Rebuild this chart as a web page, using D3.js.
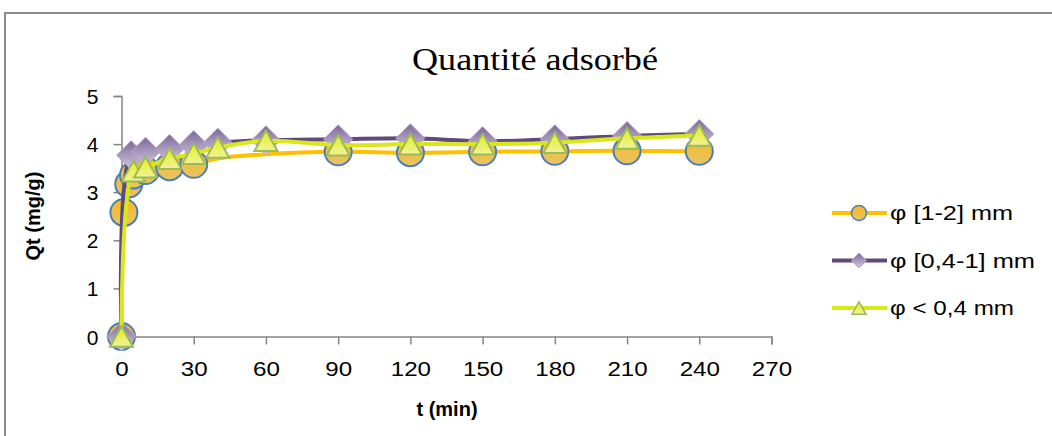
<!DOCTYPE html>
<html>
<head>
<meta charset="utf-8">
<script src="https://cdn.jsdelivr.net/npm/d3@7"></script>
<style>
  body { margin: 0; background: #fff; }
  svg { display: block; }
</style>
</head>
<body>
<svg id="chart" width="1052" height="436"></svg>
<script>
// temps de contact (min) et quantité adsorbée (mg/g) pour chaque granulométrie
var tOrange = [0, 1, 3, 5, 10, 20, 30, 40, 60, 90, 120, 150, 180, 210, 240];
var qOrange = [0, 2.58, 3.17, 3.36, 3.45, 3.53, 3.58, 3.70, 3.79, 3.84, 3.82, 3.84, 3.85, 3.86, 3.85];
// points à 40 et 60 min tracés sans marqueur dans l'original
var noMarkerOrange = [40, 60];

var tPurple = [0, 4, 10, 20, 30, 40, 60, 90, 120, 150, 180, 210, 240];
var qPurple = [0, 3.77, 3.84, 3.9, 3.98, 4.03, 4.08, 4.1, 4.12, 4.06, 4.1, 4.17, 4.21];

var tYellow = [0, 5, 10, 20, 30, 40, 60, 90, 120, 150, 180, 210, 240];
var qYellow = [0, 3.44, 3.52, 3.7, 3.8, 3.93, 4.07, 3.98, 4.0, 4.0, 4.03, 4.12, 4.18];

var seriesNames = ["\u03c6 [1-2] mm", "\u03c6 [0,4-1] mm", "\u03c6 < 0,4 mm"];
var xTicks = [0, 30, 60, 90, 120, 150, 180, 210, 240, 270];
var yTicks = [0, 1, 2, 3, 4, 5];

var svg = d3.select("#chart");
var margin = { left: 121.5, right: 1052 - 771.5, top: 96, bottom: 436 - 336.5 };
var width = 1052, height = 436;

var x = d3.scaleLinear().domain([0, 270]).range([margin.left, width - margin.right]);
var y = d3.scaleLinear().domain([0, 5]).range([height - margin.bottom, margin.top]);

// outer frame
svg.append("rect")
    .attr("x", 5).attr("y", 13)
    .attr("width", 1060).attr("height", 440)
    .attr("fill", "#fff")
    .attr("stroke", "#8a8a8a")
    .attr("stroke-width", 2);

// gradients for markers
var defs = svg.append("defs");
function grad(id, c1, c2) {
    var g = defs.append("linearGradient").attr("id", id)
        .attr("x1", 0).attr("y1", 0).attr("x2", 0).attr("y2", 1);
    g.append("stop").attr("offset", "0%").attr("stop-color", c1);
    g.append("stop").attr("offset", "100%").attr("stop-color", c2);
}
grad("gOrange", "#f9b91c", "#e6c46a");
grad("gPurple", "#7d6799", "#d4cae2");
grad("gYellow", "#e4ef1c", "#f0f29a");

// title
svg.append("text")
    .attr("x", 535).attr("y", 70)
    .attr("text-anchor", "middle")
    .attr("textLength", 246)
    .attr("lengthAdjust", "spacingAndGlyphs")
    .style("font-family", "'Liberation Serif', 'DejaVu Serif', serif")
    .style("font-size", "31px")
    .style("fill", "#000")
    .text("Quantité adsorbé");

// axes
var xAxis = svg.append("g")
    .attr("transform", "translate(0," + y(0) + ")")
    .call(d3.axisBottom(x).tickValues(xTicks).tickFormat(d3.format("d")).tickSize(8).tickPadding(17));
var yAxis = svg.append("g")
    .attr("transform", "translate(" + x(0) + ",0)")
    .call(d3.axisLeft(y).tickValues(yTicks).tickFormat(d3.format("d")).tickSize(8).tickPadding(14));

[xAxis, yAxis].forEach(function (ax) {
    ax.select(".domain").attr("stroke", "#868686").attr("stroke-width", 1.5);
    ax.selectAll(".tick line").attr("stroke", "#868686").attr("stroke-width", 1.5);
    ax.selectAll(".tick text")
        .style("font-family", "'Liberation Sans', Arial, sans-serif")
        .style("font-size", "21px")
        .style("fill", "#000");
});
xAxis.selectAll(".tick text").attr("transform", "scale(1.15,1)");
yAxis.selectAll(".tick text").attr("x", -23).attr("dy", "0.36em");

// axis titles
svg.append("text")
    .attr("x", 447).attr("y", 416)
    .attr("text-anchor", "middle")
    .style("font-family", "'Liberation Sans', Arial, sans-serif")
    .style("font-size", "20px")
    .style("font-weight", "bold")
    .text("t (min)");

svg.append("text")
    .attr("transform", "translate(40,216) rotate(-90)")
    .attr("text-anchor", "middle")
    .style("font-family", "'Liberation Sans', Arial, sans-serif")
    .style("font-size", "20px")
    .style("font-weight", "bold")
    .text("Qt (mg/g)");

var line = d3.line()
    .x(function (d) { return x(d[0]); })
    .y(function (d) { return y(d[1]); })
    .curve(d3.curveCatmullRom.alpha(0.5));

var series = [
    { t: tOrange, q: qOrange, skip: noMarkerOrange, line: "#ffc000", fill: "url(#gOrange)", stroke: "#4a7ebb", shape: "circle" },
    { t: tPurple, q: qPurple, skip: [], line: "#5f4a7b", fill: "url(#gPurple)", stroke: "#b3a2c7", shape: "diamond" },
    { t: tYellow, q: qYellow, skip: [], line: "#d8e81a", fill: "url(#gYellow)", stroke: "#9bbb59", shape: "triangle" }
];

function markerPath(shape, s) {
    if (shape === "circle") {
        return "M" + (-s) + ",0A" + s + "," + s + " 0 1,0 " + s + ",0A" + s + "," + s + " 0 1,0 " + (-s) + ",0Z";
    }
    if (shape === "diamond") {
        return "M0," + (-s) + "L" + s + ",0L0," + s + "L" + (-s) + ",0Z";
    }
    var h = s * 0.9;
    return "M0," + (-h) + "L" + s + "," + h + "L" + (-s) + "," + h + "Z";
}
var markerSize = { circle: 13.5, diamond: 14.5, triangle: 11.5 };

series.forEach(function (s) {
    var pts = s.t.map(function (t, i) { return [t, s.q[i]]; });
    var g = svg.append("g");
    g.append("path")
        .datum(pts)
        .attr("d", line)
        .attr("fill", "none")
        .attr("stroke", s.line)
        .attr("stroke-width", 4)
        .attr("stroke-linejoin", "round");
    g.selectAll("path.m")
        .data(pts.filter(function (d) { return s.skip.indexOf(d[0]) < 0; }))
        .enter()
        .append("path")
        .attr("class", "m")
        .attr("transform", function (d) { return "translate(" + x(d[0]) + "," + y(d[1]) + ")"; })
        .attr("d", markerPath(s.shape, markerSize[s.shape]))
        .attr("fill", s.fill)
        .attr("stroke", s.stroke)
        .attr("stroke-width", s.shape === "diamond" ? 1 : 2);
});

// legend
var legend = svg.append("g");
series.forEach(function (s, i) {
    var ly = 213 + i * 47.5;
    legend.append("line")
        .attr("x1", 832).attr("x2", 887)
        .attr("y1", ly).attr("y2", ly)
        .attr("stroke", s.line)
        .attr("stroke-width", 4);
    legend.append("path")
        .attr("transform", "translate(859," + ly + ")")
        .attr("d", markerPath(s.shape, s.shape === "triangle" ? 7 : 7.5))
        .attr("fill", s.fill)
        .attr("stroke", s.stroke)
        .attr("stroke-width", s.shape === "diamond" ? 1 : 1.5);
    legend.append("text")
        .attr("x", 890).attr("y", ly)
        .attr("dy", "0.35em")
        .attr("textLength", [123, 145, 124][i])
        .attr("lengthAdjust", "spacingAndGlyphs")
        .style("font-family", "'Liberation Sans', Arial, sans-serif")
        .style("font-size", "21px")
        .text(seriesNames[i]);
});
</script>
</body>
</html>
